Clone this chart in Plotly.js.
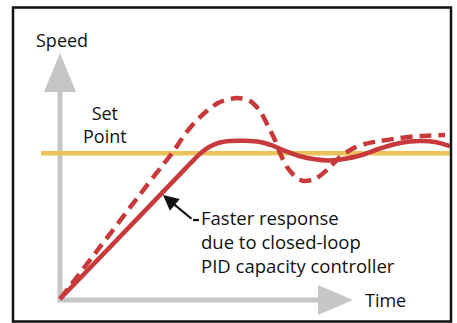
<!DOCTYPE html>
<html>
<head>
<meta charset="utf-8">
<script src="https://cdn.plot.ly/plotly-3.0.1.min.js"></script>
<style>html,body{margin:0;padding:0;background:#fff;}#chart{width:457px;height:323px;}</style>
</head>
<body>
<div id="chart"></div>
<script>
// Data (time units, speed in % of set point)
const setPointValue = 100;
const setPointTime = [-1.9, 39.0];

const timePID = [0, 6.8, 11.5, 13.5, 14.2, 15.0, 16.0, 17.0, 18.5, 20.0, 21.2, 22.5, 24.0, 25.5, 27.0, 28.5, 30.0, 32.0, 34.0, 36.0, 37.5, 39.0];
const speedPID = [0, 48.5, 82.1, 96.4, 100.9, 104.7, 107.4, 108.4, 108.6, 107.8, 105.4, 101.6, 98.0, 95.9, 95.1, 96.2, 98.5, 103.3, 107.1, 108.4, 107.8, 105.0];

const timeOpen = [0, 4.0, 7.8, 10.2, 11.3, 12.5, 14.0, 15.8, 17.7, 19.0, 20.0, 20.8, 21.5, 22.0, 22.7, 23.7, 24.4, 25.5, 26.8, 28.0, 29.2, 30.5, 32.0, 34.0, 36.0, 38.5];
const speedOpen = [0, 35.7, 70.0, 91.3, 100.9, 113.2, 124.9, 134.5, 138.0, 135.9, 129.0, 118.7, 109.1, 100.2, 90.6, 83.0, 81.0, 82.4, 89.2, 97.5, 103.0, 106.4, 108.4, 110.5, 111.9, 112.6];

const yLabel = "Speed";
const xLabel = "Time";
const setPointLabel = "Set<br>Point";
const noteLines = ["Faster response", "due to closed-loop", "PID capacity controller"];

// Styles
const RED = "#c8393b";
const GOLD = "#ecc35a";
const GRAY = "#c6c6c6";
const FONT = {family: "Open Sans", size: 18, color: "#111"};
const NOTE_FONT = {family: "Open Sans", size: 18.5, color: "#111"};

const traces = [
  {x: setPointTime, y: [setPointValue, setPointValue], mode: "lines",
   line: {color: GOLD, width: 4.5}, hoverinfo: "skip"},
  {x: timeOpen, y: speedOpen, mode: "lines",
   line: {color: RED, width: 4.5, dash: "12px,7px", shape: "spline", smoothing: 0.8}, hoverinfo: "skip"},
  {x: timePID, y: speedPID, mode: "lines",
   line: {color: RED, width: 4.5, shape: "spline", smoothing: 0.9}, hoverinfo: "skip"}
];

// axis geometry in data units
const yTop = 142.1, yTip = 168.8, yHalf = 1.6;
const xEnd = 25.8, xTip = 29.3, xHalf = 10.3;

const shapes = [
  {type: "rect", xref: "paper", yref: "paper", x0: 13/457, x1: 451/457, y0: 1-321.5/323, y1: 1-7.5/323,
   line: {color: "#111", width: 2.5}, layer: "above"},
  {type: "path", xref: "x", yref: "y", layer: "below",
   path: `M 0 ${yTop} L 0 -0.7 L ${xEnd} -0.7`, line: {color: GRAY, width: 5}},
  {type: "path", xref: "x", yref: "y", layer: "below",
   path: `M ${-yHalf} ${yTop} L 0 ${yTip} L ${yHalf} ${yTop} Z`, fillcolor: GRAY, line: {width: 0}},
  {type: "path", xref: "x", yref: "y", layer: "below",
   path: `M ${xEnd} ${-0.7 - xHalf} L ${xTip} -0.7 L ${xEnd} ${-0.7 + xHalf} Z`, fillcolor: GRAY, line: {width: 0}},
  {type: "line", xref: "x", yref: "y", x0: 13.3, y0: 54.2, x1: 13.9, y1: 54.2,
   line: {color: "#111", width: 2.2}}
];

const annotations = [
  {xref: "x", yref: "y", x: 0.2, y: 178, text: yLabel, showarrow: false, font: FONT, xanchor: "center", yanchor: "middle"},
  {xref: "x", yref: "y", x: 30.3, y: -0.5, text: xLabel, showarrow: false, font: FONT, xanchor: "left", yanchor: "middle"},
  {xref: "x", yref: "y", x: 4.5, y: 119.5, text: setPointLabel, showarrow: false, font: FONT, xanchor: "center", yanchor: "middle", align: "center"},
  {xref: "x", yref: "y", x: 14.0, y: 39.8, text: noteLines.join("<br>"), showarrow: false,
   font: NOTE_FONT, xanchor: "left", yanchor: "middle", align: "left", borderpad: 0},
  {xref: "x", yref: "y", axref: "x", ayref: "y", x: 10.3, y: 71.4, ax: 13.3, ay: 54.2, text: "",
   showarrow: true, arrowhead: 2, arrowsize: 1.4, arrowwidth: 2.2, arrowcolor: "#111", standoff: 0}
];

const layout = {
  width: 457, height: 323,
  margin: {l: 0, r: 0, t: 0, b: 0},
  paper_bgcolor: "#fff", plot_bgcolor: "#fff",
  showlegend: false,
  xaxis: {range: [-6.0, 39.7], visible: false, fixedrange: true},
  yaxis: {range: [-16.47, 205.22], visible: false, fixedrange: true},
  shapes: shapes,
  annotations: annotations
};

Plotly.newPlot("chart", traces, layout, {staticPlot: true, displayModeBar: false});
</script>
</body>
</html>
